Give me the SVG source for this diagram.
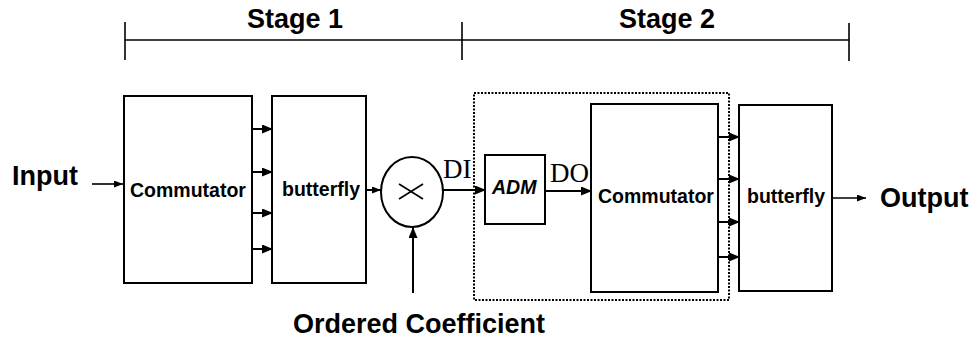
<svg xmlns="http://www.w3.org/2000/svg" width="972" height="341" viewBox="0 0 972 341">
<style>
.box{fill:#fff;stroke:#000;stroke-width:2}
.ln{fill:none;stroke:#000;stroke-width:2}
.thin{fill:none;stroke:#000;stroke-width:1.6}
.lbl{font-family:"Liberation Sans",Arial,sans-serif;font-weight:bold;fill:#000}
.big{font-size:27px}
.mid{font-size:19.5px}
.ser{font-family:"Liberation Serif","Times New Roman",serif;font-size:27px;fill:#000}
</style>
<defs>
<marker id="ah" markerUnits="userSpaceOnUse" markerWidth="11" markerHeight="9" refX="10" refY="4.5" orient="auto">
<path d="M0,0 L11,4.5 L0,9 z" fill="#000"/>
</marker>
<marker id="ahs" markerUnits="userSpaceOnUse" markerWidth="9" markerHeight="7" refX="9" refY="3.5" orient="auto">
<path d="M0,0 L9,3.5 L0,7 z" fill="#000"/>
</marker>
</defs>
<rect width="972" height="341" fill="#fff"/>
<g id="stage-bracket">
<line class="thin" x1="125" y1="40" x2="849" y2="40"/>
<line class="thin" x1="125" y1="22" x2="125" y2="60"/>
<line class="thin" x1="462" y1="22" x2="462" y2="60"/>
<line class="thin" x1="849" y1="23" x2="849" y2="61"/>
<text class="lbl big" x="247" y="28">Stage 1</text>
<text class="lbl big" x="619" y="28">Stage 2</text>
</g>
<g id="stage2-region">
<rect x="474" y="93" width="255" height="207" fill="none" stroke="#000" stroke-width="2" stroke-dasharray="2,1.5"/>
</g>
<g id="input"><text class="lbl big" x="12" y="185">Input</text></g>
<g id="commutator1"><rect class="box" x="124" y="96" width="128" height="187"/><text class="lbl mid" x="130" y="197">Commutator</text></g>
<g id="butterfly1"><rect class="box" x="272" y="96" width="94" height="187"/><text class="lbl mid" x="282" y="196">butterfly</text></g>
<g id="multiplier"><ellipse cx="412" cy="192" rx="31" ry="35" fill="#fff" stroke="#000" stroke-width="2"/>
<line x1="399" y1="184" x2="423" y2="199" stroke="#000" stroke-width="1.6"/><line x1="399" y1="199" x2="423" y2="184" stroke="#000" stroke-width="1.6"/></g>
<g id="coefficient"><text class="lbl big" x="293" y="333">Ordered Coefficient</text></g>
<g id="adm"><rect class="box" x="485" y="155" width="60" height="69"/><text class="lbl mid" x="492" y="194" font-style="italic">ADM</text></g>
<g id="commutator2"><rect class="box" x="591" y="104" width="127" height="188"/><text class="lbl mid" x="598" y="203">Commutator</text></g>
<g id="butterfly2"><rect class="box" x="739" y="105" width="93" height="186"/><text class="lbl mid" x="747" y="203">butterfly</text></g>
<g id="output"><text class="lbl big" x="880" y="207">Output</text></g>
<g id="connectors">
<line class="thin" x1="92" y1="184" x2="123" y2="184" marker-end="url(#ahs)"/>
<line class="ln" x1="252" y1="129" x2="272" y2="129" marker-end="url(#ah)"/>
<line class="ln" x1="252" y1="172" x2="272" y2="172" marker-end="url(#ah)"/>
<line class="ln" x1="252" y1="213" x2="272" y2="213" marker-end="url(#ah)"/>
<line class="ln" x1="252" y1="249" x2="272" y2="249" marker-end="url(#ah)"/>
<line class="ln" x1="366" y1="190" x2="381" y2="190" marker-end="url(#ahs)"/>
<line class="ln" x1="413" y1="293" x2="413" y2="228" marker-end="url(#ah)"/>
<line class="ln" x1="443" y1="190" x2="485" y2="190" marker-end="url(#ah)"/>
<text class="ser" x="443" y="178">DI</text>
<line class="ln" x1="545" y1="191" x2="591" y2="191" marker-end="url(#ah)"/>
<text class="ser" x="550" y="182">DO</text>
<line class="ln" x1="718" y1="137" x2="739" y2="137" marker-end="url(#ah)"/>
<line class="ln" x1="718" y1="179" x2="739" y2="179" marker-end="url(#ah)"/>
<line class="ln" x1="718" y1="222" x2="739" y2="222" marker-end="url(#ah)"/>
<line class="ln" x1="718" y1="257" x2="739" y2="257" marker-end="url(#ah)"/>
<line class="thin" x1="832" y1="198" x2="866" y2="198" marker-end="url(#ahs)"/>
</g>
</svg>
